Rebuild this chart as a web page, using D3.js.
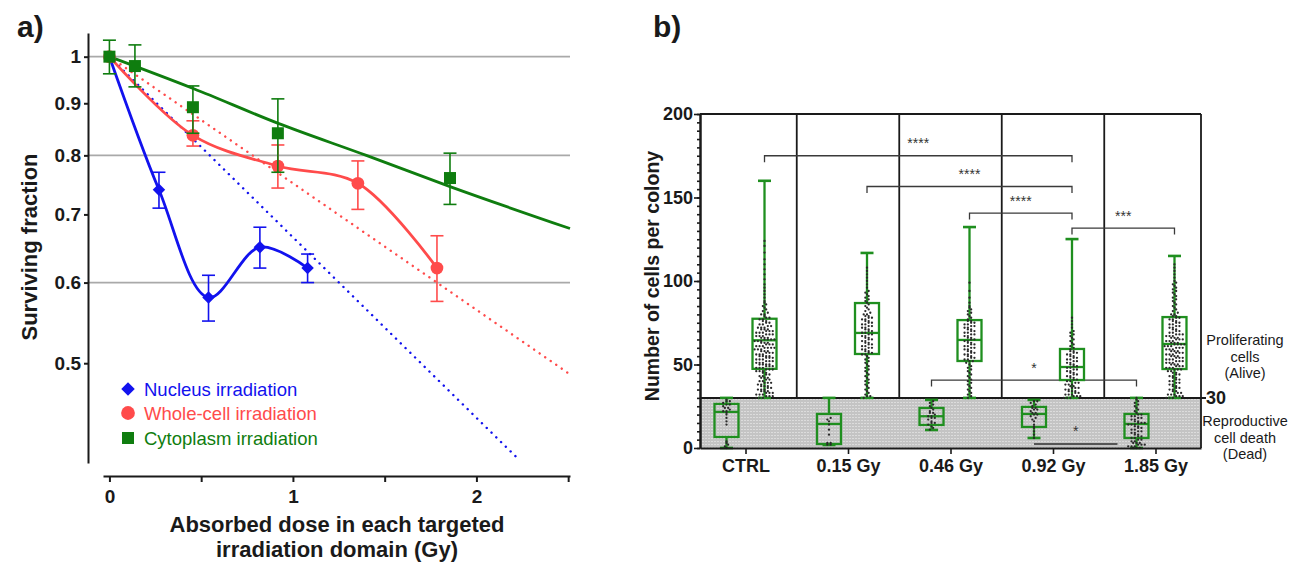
<!DOCTYPE html>
<html>
<head>
<meta charset="utf-8">
<script src="https://cdn.jsdelivr.net/npm/d3@7"></script>
<style>
  body { margin: 0; background: #fff; }
  svg { font-family: Arial, "Liberation Sans", sans-serif; }
  .bold { font-weight: bold; fill: #1a1a1a; }
</style>
</head>
<body>
<script>
// ---------- panel a data ----------
const seriesNames = ['Nucleus irradiation', 'Whole-cell irradiation', 'Cytoplasm irradiation'];
const seriesColors = ['#1212ee', '#ff4b4b', '#0f7d0f'];

const nucleusDose = [0, 0.27, 0.54, 0.82, 1.08];
const nucleusSF   = [1, 0.74, 0.58, 0.65, 0.62];
const nucleusLo   = [1, 0.71, 0.55, 0.62, 0.60];
const nucleusHi   = [1, 0.77, 0.61, 0.68, 0.64];

const wholeDose = [0, 0.455, 0.918, 1.354, 1.785];
const wholeSF   = [1, 0.837, 0.781, 0.751, 0.62];
const wholeLo   = [1, 0.817, 0.743, 0.708, 0.575];
const wholeHi   = [1, 0.865, 0.819, 0.79, 0.667];

const cytoDose = [0, 0.139, 0.455, 0.918, 1.856];
const cytoSF   = [1, 0.979, 0.892, 0.841, 0.76];
const cytoLo   = [0.962, 0.934, 0.841, 0.77, 0.716];
const cytoHi   = [1.038, 1.027, 0.936, 0.909, 0.804];

// fitted lines (dose, SF)
const nucleusFit = [[0, 1], [2.22, 0.404]];
const wholeFit   = [[0, 1], [2.5, 0.489]];
const cytoFit    = [[0, 1], [0.46, 0.93], [0.92, 0.86], [1.4, 0.80], [1.86, 0.745], [2.51, 0.678]];

const yTicksA = [0.5, 0.6, 0.7, 0.8, 0.9, 1];
const gridA = [0.6, 0.8, 1];
const xTicksA = [0, 0.5, 1, 1.5, 2, 2.5];

// ---------- panel b data ----------
const categories = ['CTRL', '0.15 Gy', '0.46 Gy', '0.92 Gy', '1.85 Gy'];

const aliveMin = [30, 30, 30, 30, 30];
const aliveQ1  = [47.4, 56.3, 52.1, 40.7, 47.3];
const aliveMed = [64.5, 68.9, 64.7, 48.5, 62.3];
const aliveQ3  = [77.4, 86.8, 76.6, 59.3, 78.4];
const aliveMax = [160, 116.8, 132.3, 125.1, 115];

const deadMin = [0, 1.8, 10.8, 6, 0];
const deadQ1  = [6.6, 2.4, 13.8, 12.6, 6];
const deadMed = [21.6, 14.4, 19, 20.4, 14.4];
const deadQ3  = [26.4, 20.4, 24, 24.6, 20.4];
const deadMax = [30, 30, 28.8, 28.8, 30];

const aliveDots = [
  [30,30,30,31,31,31,32,32,32,33,33,33,34,34,34,35,35,35,36,36,37,37,37,38,38,39,39,39,40,40,41,41,42,42,42,43,43,44,44,45,45,46,46,46,47,47,47,48,48,48,49,49,49,50,50,50,50,51,51,51,52,52,52,53,53,53,54,54,54,55,55,55,55,56,56,56,57,57,57,58,58,58,59,59,59,60,60,60,60,61,61,61,62,62,62,63,63,63,64,64,64,65,65,65,65,66,66,66,67,67,67,68,68,68,69,69,69,70,70,70,71,71,71,72,72,72,73,73,74,74,75,75,76,76,77,77,78,78,79,80,80,81,82,83,84,85,86,87,88,90,92,94,96,98,101,104,107,110,113,117,121,124],
  [30,31,31,32,33,34,35,36,37,38,39,40,41,42,43,44,45,46,47,48,49,50,51,52,53,54,55,56,56,57,57,58,58,59,59,60,60,61,61,62,62,63,63,64,64,65,65,66,66,67,67,68,68,69,69,70,70,71,71,72,72,73,73,74,74,75,75,76,76,77,77,78,78,79,79,80,80,81,82,83,84,85,86,87,88,89,90,91,92,93,94,96,98,100,102,104,106,108],
  [30,31,32,33,34,35,36,37,38,39,40,41,42,43,44,45,46,47,48,49,50,51,52,52,53,53,54,54,55,55,56,56,57,57,58,58,59,59,60,60,61,61,62,62,63,63,64,64,65,65,66,66,67,67,68,68,69,69,70,70,71,71,72,72,73,73,74,74,75,75,76,76,77,78,79,80,81,82,83,84,85,87,90,94,99],
  [30,30,30,31,31,31,32,32,32,33,33,34,34,34,35,35,36,36,36,37,37,38,38,38,39,39,40,40,41,41,42,42,43,43,44,44,45,45,46,46,47,47,48,48,49,49,50,50,51,51,52,52,53,53,54,54,55,55,56,56,57,57,58,58,59,60,61,62,63,64,65,66,67,68,69,70,72,74,76,78],
  [30,30,30,31,31,31,32,32,32,33,33,34,34,35,35,36,36,37,37,38,38,39,39,40,40,41,41,42,42,43,43,44,44,45,45,46,46,47,47,47,48,48,48,49,49,49,50,50,50,51,51,51,52,52,52,53,53,53,54,54,54,55,55,55,56,56,56,57,57,57,58,58,58,59,59,59,60,60,60,61,61,61,62,62,62,62,63,63,63,64,64,64,65,65,65,66,66,66,67,67,67,68,68,68,69,69,70,70,71,71,72,72,73,73,74,74,75,75,76,76,77,77,78,78,79,79,80,80,81,82,83,84,85,86,87,88,89,90,91,92,93,94,95,96,97,98,99,100,102,104,106,108,110]
];
const deadDots = [
  [0,1,2,3,4,14,16,18,20,21,22,22,23,24,24,25,26,26,27,28,28,29],
  [2,2,3,3,8,11,14,16,17,18],
  [11,12,13,14,15,15,16,17,18,18,19,19,20,21,21,22,23,24,25,26,27,28],
  [6,8,10,12,13,14,16,17,18,19,20,20,21,21,22,23,23,24,24,25,26,27,28,28],
  [0,0,0,1,1,1,2,2,2,3,3,3,4,4,5,5,6,6,7,7,8,8,9,9,10,10,11,11,12,12,13,13,14,14,14,15,15,15,16,16,17,17,18,18,19,19,20,20,21,22,23,24,25,26,27,28,29,30]
];

const bracketFrom  = ['CTRL', '0.15 Gy', '0.46 Gy', '0.92 Gy', '0.46 Gy', '0.92 Gy'];
const bracketTo    = ['0.92 Gy', '0.92 Gy', '0.92 Gy', '1.85 Gy', '1.85 Gy', '1.85 Gy'];
const bracketSide  = ['alive', 'alive', 'alive', 'alive', 'dead', 'dead'];
const bracketLevel = [175, 156.6, 140.7, 131.7, 40.7, 2.4];
const bracketLabel = ['****', '****', '****', '***', '*', '*'];

const yTicksB = [0, 50, 100, 150, 200];

// ---------- drawing ----------
const svg = d3.select('body').append('svg')
  .attr('width', 1301)
  .attr('height', 564);

// ===== panel a =====
const xA = d3.scaleLinear().domain([-0.035, 2.51]).range([103, 570]);
const yA = d3.scaleLog().domain([0.399, 1.055]).range([463, 33]);

svg.append('text').attr('class', 'bold')
  .attr('x', 17).attr('y', 37)
  .style('font-size', '30px')
  .text('a)');

svg.append('g').selectAll('line')
  .data(gridA)
  .enter().append('line')
  .attr('x1', 88).attr('x2', 570)
  .attr('y1', d => yA(d)).attr('y2', d => yA(d))
  .attr('stroke', '#a9a9a9')
  .attr('stroke-width', 1.8);

const axA = svg.append('g')
  .attr('transform', 'translate(88,0)')
  .call(d3.axisLeft(yA).tickValues(yTicksA).tickSize(4).tickPadding(3).tickSizeOuter(0)
    .tickFormat(d => d === 1 ? '1' : d3.format('.1f')(d)));

const axXA = svg.append('g')
  .attr('transform', 'translate(0,476)')
  .call(d3.axisBottom(xA).tickValues(xTicksA).tickSize(6).tickPadding(8).tickSizeOuter(0)
    .tickFormat(d => Number.isInteger(d) ? d : ''));

[axA, axXA].forEach(g => {
  g.select('.domain').attr('stroke', '#1a1a1a').attr('stroke-width', 2);
  g.selectAll('.tick line').attr('stroke', '#1a1a1a').attr('stroke-width', 2);
  g.selectAll('.tick text').attr('class', 'bold')
    .style('font-size', '19px').style('font-family', 'Arial, "Liberation Sans", sans-serif');
});

svg.append('text').attr('class', 'bold')
  .attr('transform', 'translate(37,247) rotate(-90)')
  .attr('text-anchor', 'middle')
  .style('font-size', '22px')
  .text('Surviving fraction');

svg.append('text').attr('class', 'bold')
  .attr('x', 337).attr('y', 532)
  .attr('text-anchor', 'middle')
  .style('font-size', '22px')
  .text('Absorbed dose in each targeted');
svg.append('text').attr('class', 'bold')
  .attr('x', 337).attr('y', 557)
  .attr('text-anchor', 'middle')
  .style('font-size', '22px')
  .text('irradiation domain (Gy)');

const straight = d3.line().x(d => xA(d[0])).y(d => yA(d[1]));
const smooth = d3.line().x(d => xA(d[0])).y(d => yA(d[1])).curve(d3.curveCatmullRom.alpha(0.5));
const gentle = d3.line().x(d => xA(d[0])).y(d => yA(d[1])).curve(d3.curveMonotoneX);

// dotted exponential fits
[[nucleusFit, 0], [wholeFit, 1]].forEach(([pts, i]) => {
  svg.append('path')
    .attr('d', straight(pts))
    .attr('fill', 'none')
    .attr('stroke', seriesColors[i])
    .attr('stroke-width', 2.4)
    .attr('stroke-linecap', 'round')
    .attr('stroke-dasharray', '0.1,6.6');
});

const seriesA = [
  { dose: nucleusDose, sf: nucleusSF, lo: nucleusLo, hi: nucleusHi, curve: smooth, line: null },
  { dose: wholeDose, sf: wholeSF, lo: wholeLo, hi: wholeHi, curve: smooth, line: null },
  { dose: cytoDose, sf: cytoSF, lo: cytoLo, hi: cytoHi, curve: gentle, line: cytoFit }
];

seriesA.forEach((s, i) => {
  const pts = s.dose.map((d, j) => [d, s.sf[j]]);
  svg.append('path')
    .attr('d', s.curve(s.line || pts))
    .attr('fill', 'none')
    .attr('stroke', seriesColors[i])
    .attr('stroke-width', 2.8);
});

function marker(sel, i, size) {
  if (i === 0) {
    const h = size * 0.52;
    sel.append('path').attr('d', `M0,${-h}L${h},0L0,${h}L${-h},0Z`);
  } else if (i === 1) {
    sel.append('circle').attr('r', size * 0.53);
  } else {
    sel.append('rect').attr('x', -size / 2).attr('y', -size / 2).attr('width', size).attr('height', size);
  }
}

seriesA.forEach((s, i) => {
  const g = svg.append('g').attr('fill', seriesColors[i]).attr('stroke', seriesColors[i]);
  s.dose.forEach((d, j) => {
    if (s.hi[j] === s.lo[j]) return;
    const x = xA(d);
    g.append('line').attr('x1', x).attr('x2', x).attr('y1', yA(s.lo[j])).attr('y2', yA(s.hi[j])).attr('stroke-width', 1.6);
    [s.lo[j], s.hi[j]].forEach(v => {
      g.append('line').attr('x1', x - 6.5).attr('x2', x + 6.5).attr('y1', yA(v)).attr('y2', yA(v)).attr('stroke-width', 1.6);
    });
  });
  s.dose.forEach((d, j) => {
    const m = g.append('g').attr('transform', `translate(${xA(d)},${yA(s.sf[j])})`).attr('stroke', 'none');
    marker(m, i, 12);
  });
});

// legend
seriesNames.forEach((name, i) => {
  const y = [389, 413, 438][i];
  const m = svg.append('g').attr('transform', `translate(128,${y})`).attr('fill', seriesColors[i]);
  marker(m, i, i === 2 ? 12 : 13);
  svg.append('text')
    .attr('x', 144).attr('y', y).attr('dy', '0.36em')
    .attr('fill', seriesColors[i])
    .style('font-size', '18.5px')
    .text(name);
});

// ===== panel b =====
const xB = d3.scalePoint().domain(categories).range([700, 1201]).padding(0.444);
const yB = d3.scaleLinear().domain([0, 200]).range([448, 114]);
const off = 19;
const sideX = (cat, side) => xB(cat) + (side === 'alive' ? off : -off);

svg.append('text').attr('class', 'bold')
  .attr('x', 653).attr('y', 37)
  .style('font-size', '30px')
  .text('b)');

const defs = svg.append('defs');
const pat = defs.append('pattern').attr('id', 'shade').attr('patternUnits', 'userSpaceOnUse')
  .attr('width', 3).attr('height', 3);
pat.append('rect').attr('width', 3).attr('height', 3).attr('fill', '#c4c4c4');
pat.append('rect').attr('width', 2).attr('height', 1).attr('fill', '#dcdcdc');

svg.append('rect')
  .attr('x', 700).attr('y', yB(30))
  .attr('width', 1201 - 700).attr('height', yB(0) - yB(30))
  .attr('fill', 'url(#shade)');

// separators between groups
svg.append('g').selectAll('line')
  .data(categories.slice(1))
  .enter().append('line')
  .attr('x1', d => xB(d) - xB.step() / 2).attr('x2', d => xB(d) - xB.step() / 2)
  .attr('y1', yB(200)).attr('y2', yB(30))
  .attr('stroke', '#1a1a1a').attr('stroke-width', 1.8);

// frame
svg.append('line').attr('x1', 700).attr('x2', 1201).attr('y1', yB(200)).attr('y2', yB(200))
  .attr('stroke', '#1a1a1a').attr('stroke-width', 1.8);
svg.append('line').attr('x1', 1201).attr('x2', 1201).attr('y1', yB(200)).attr('y2', yB(0))
  .attr('stroke', '#1a1a1a').attr('stroke-width', 1.8);
svg.append('line').attr('x1', 700).attr('x2', 1206).attr('y1', yB(30)).attr('y2', yB(30))
  .attr('stroke', '#1a1a1a').attr('stroke-width', 2);

// significance brackets
bracketFrom.forEach((from, i) => {
  const side = bracketSide[i];
  const x1 = sideX(from, side);
  const ticks = i < 5;
  const x2 = sideX(bracketTo[i], side) - (ticks ? 0 : off);
  const y = yB(bracketLevel[i]);
  const g = svg.append('g').attr('stroke', '#3a3a3a').attr('stroke-width', 1.3).attr('fill', 'none');
  if (ticks) {
    g.append('path').attr('d', `M${x1},${y + 6.5}V${y}H${x2}V${y + 6.5}`);
  } else {
    g.append('path').attr('d', `M${x1},${y}H${x2}`).attr('stroke-width', 1.8).attr('stroke', '#555');
  }
  svg.append('text')
    .attr('x', (x1 + x2) / 2).attr('y', y - 15 + 7.5)
    .attr('text-anchor', 'middle')
    .attr('fill', '#333')
    .style('font-size', '14px')
    .text(bracketLabel[i]);
});

// boxes
const green = '#1f8f1f';
function drawBox(cx, mn, q1, md, q3, mx) {
  const g = svg.append('g').attr('stroke', green).attr('fill', 'none').attr('stroke-width', 2.3);
  const w = 24;
  g.append('line').attr('x1', cx).attr('x2', cx).attr('y1', yB(mx)).attr('y2', yB(q3));
  g.append('line').attr('x1', cx).attr('x2', cx).attr('y1', yB(q1)).attr('y2', yB(mn));
  [mn, mx].forEach(v => g.append('line').attr('x1', cx - 6.5).attr('x2', cx + 6.5).attr('y1', yB(v)).attr('y2', yB(v)).attr('stroke-width', 2.6));
  g.append('rect').attr('x', cx - w / 2).attr('y', yB(q3)).attr('width', w).attr('height', yB(q1) - yB(q3));
  g.append('line').attr('x1', cx - w / 2).attr('x2', cx + w / 2).attr('y1', yB(md)).attr('y2', yB(md));
}

function swarm(vals, cx) {
  const sorted = vals.slice().sort((a, b) => a - b);
  const rows = d3.group(sorted, v => Math.round(yB(v) / 2.7));
  const pts = [];
  rows.forEach(arr => {
    arr.forEach((v, i) => pts.push([cx + (i - (arr.length - 1) / 2) * 3.3, yB(v)]));
  });
  return pts;
}

categories.forEach((cat, i) => {
  const xa = sideX(cat, 'alive');
  const xd = sideX(cat, 'dead');
  drawBox(xa, aliveMin[i], aliveQ1[i], aliveMed[i], aliveQ3[i], aliveMax[i]);
  drawBox(xd, deadMin[i], deadQ1[i], deadMed[i], deadQ3[i], deadMax[i]);
  const pts = swarm(aliveDots[i], xa).concat(swarm(deadDots[i], xd));
  svg.append('g').selectAll('circle')
    .data(pts)
    .enter().append('circle')
    .attr('cx', d => d[0]).attr('cy', d => d[1])
    .attr('r', 1.15)
    .attr('fill', '#2a2a2a');
});

// axes b
const axYB = svg.append('g')
  .attr('transform', 'translate(700,0)')
  .call(d3.axisLeft(yB).tickValues(yTicksB).tickSize(6).tickPadding(1).tickSizeOuter(0));
const axYBminor = svg.append('g')
  .attr('transform', 'translate(700,0)')
  .call(d3.axisLeft(yB).ticks(40).tickSize(3).tickFormat('').tickSizeOuter(0));
const axXB = svg.append('g')
  .attr('transform', `translate(0,${yB(0)})`)
  .call(d3.axisBottom(xB).tickSize(6).tickPadding(5).tickSizeOuter(0));

[axYB, axYBminor, axXB].forEach(g => {
  g.select('.domain').attr('stroke', '#1a1a1a').attr('stroke-width', 2);
  g.selectAll('.tick line').attr('stroke', '#1a1a1a').attr('stroke-width', 1.6);
  g.selectAll('.tick text').attr('class', 'bold')
    .style('font-size', '18px').style('font-family', 'Arial, "Liberation Sans", sans-serif');
});

svg.append('text').attr('class', 'bold')
  .attr('transform', 'translate(659,276) rotate(-90)')
  .attr('text-anchor', 'middle')
  .style('font-size', '19.5px')
  .text('Number of cells per colony');

svg.append('text').attr('class', 'bold')
  .attr('x', 1206).attr('y', yB(30)).attr('dy', '0.36em')
  .style('font-size', '18px')
  .text('30');

const rightLabels = [
  { lines: ['Proliferating', 'cells', '(Alive)'], y: 340 },
  { lines: ['Reproductive', 'cell death', '(Dead)'], y: 421 }
];
rightLabels.forEach(l => {
  l.lines.forEach((t, k) => {
    svg.append('text')
      .attr('x', 1245).attr('y', l.y + k * 16.5).attr('dy', '0.36em')
      .attr('text-anchor', 'middle')
      .attr('fill', '#1a1a1a')
      .style('font-size', '14.5px')
      .text(t);
  });
});
</script>
</body>
</html>
